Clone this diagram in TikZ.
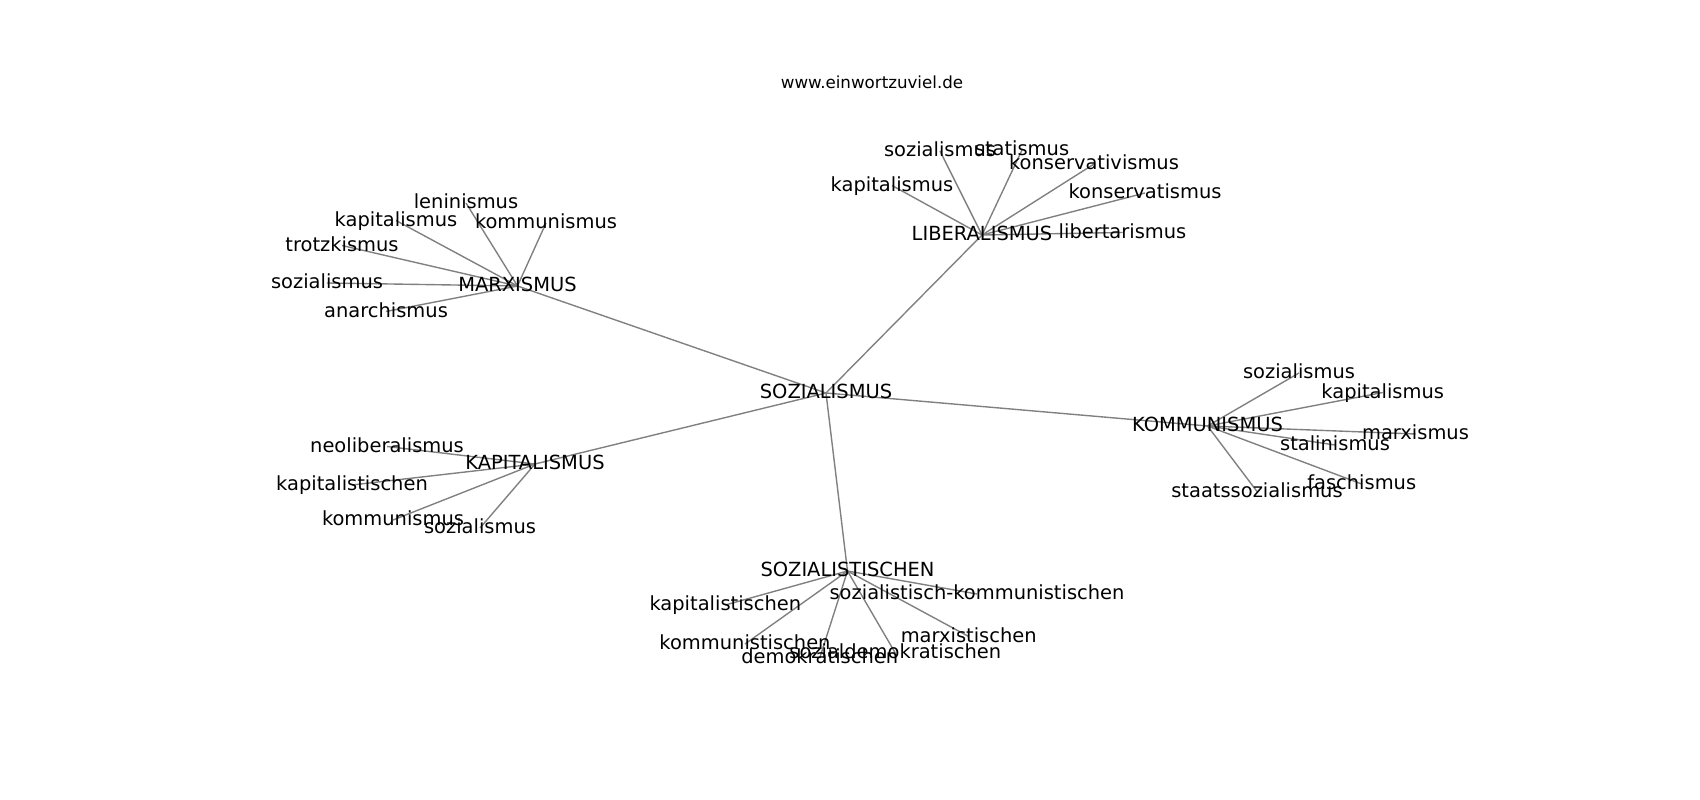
\documentclass[tikz,border=0pt]{standalone}
\usepackage{fontspec}
\setmainfont{DejaVu Sans}
\usetikzlibrary{backgrounds}
\tikzset{
  lbl/.style={font=\fontsize{14bp}{16bp}\selectfont, text=black, text height=11.4bp, text depth=3bp, inner sep=0pt, anchor=center},
  ttl/.style={font=\fontsize{12bp}{14bp}\selectfont, text=black, inner sep=0pt, anchor=base},
  conn/.style={draw={rgb,255:red,128;green,128;blue,128}, line width=1bp}
}
\begin{document}
\begin{tikzpicture}[x=0.01in, y=-0.01in]
\useasboundingbox (0,0) rectangle (1700,800);
\node[ttl] (title) at (872,88.3) {www.einwortzuviel.de};
% hubs
\node[lbl] (S) at (826,393) {SOZIALISMUS};
\node[lbl] (M) at (517.5,286) {MARXISMUS};
\node[lbl] (L) at (982,235) {LIBERALISMUS};
\node[lbl] (K) at (1207.5,426) {KOMMUNISMUS};
\node[lbl] (P) at (535,464) {KAPITALISMUS};
\node[lbl] (T) at (847.5,571) {SOZIALISTISCHEN};
% MARXISMUS
\node[lbl] (m1) at (466,203) {leninismus};
\node[lbl] (m2) at (396,220.5) {kapitalismus};
\node[lbl] (m3) at (546,223) {kommunismus};
\node[lbl] (m4) at (342,245.5) {trotzkismus};
\node[lbl] (m5) at (327,283) {sozialismus};
\node[lbl] (m6) at (386,311.5) {anarchismus};
% LIBERALISMUS
\node[lbl] (l1) at (940,151) {sozialismus};
\node[lbl] (l2) at (1022,150) {statismus};
\node[lbl] (l3) at (1094,164) {konservativismus};
\node[lbl] (l4) at (892,185.5) {kapitalismus};
\node[lbl] (l5) at (1145,193) {konservatismus};
\node[lbl] (l6) at (1122.5,232.5) {libertarismus};
% KOMMUNISMUS
\node[lbl] (k1) at (1299,373) {sozialismus};
\node[lbl] (k2) at (1382.7,392.5) {kapitalismus};
\node[lbl] (k3) at (1415.5,434) {marxismus};
\node[lbl] (k4) at (1335,445) {stalinismus};
\node[lbl] (k5) at (1361.7,484) {faschismus};
\node[lbl] (k6) at (1257,491.5) {staatssozialismus};
% KAPITALISMUS
\node[lbl] (p1) at (387,446.5) {neoliberalismus};
\node[lbl] (p2) at (352,485) {kapitalistischen};
\node[lbl] (p3) at (393,520) {kommunismus};
\node[lbl] (p4) at (480,528) {sozialismus};
% SOZIALISTISCHEN
\node[lbl] (t1) at (725.3,605) {kapitalistischen};
\node[lbl] (t2) at (977,594) {sozialistisch-kommunistischen};
\node[lbl] (t3) at (745,644) {kommunistischen};
\node[lbl] (t4) at (968.7,636.5) {marxistischen};
\node[lbl] (t5) at (895.3,653) {sozialdemokratischen};
\node[lbl] (t6) at (819.7,658) {demokratischen};
\begin{scope}[on background layer]
  \foreach \a/\b in {S/M,S/L,S/K,S/P,S/T,
    M/m1,M/m2,M/m3,M/m4,M/m5,M/m6,
    L/l1,L/l2,L/l3,L/l4,L/l5,L/l6,
    K/k1,K/k2,K/k3,K/k4,K/k5,K/k6,
    P/p1,P/p2,P/p3,P/p4,
    T/t1,T/t2,T/t3,T/t4,T/t5,T/t6}
    \draw[conn] (\a.center) -- (\b.center);
\end{scope}
\end{tikzpicture}
\end{document}
